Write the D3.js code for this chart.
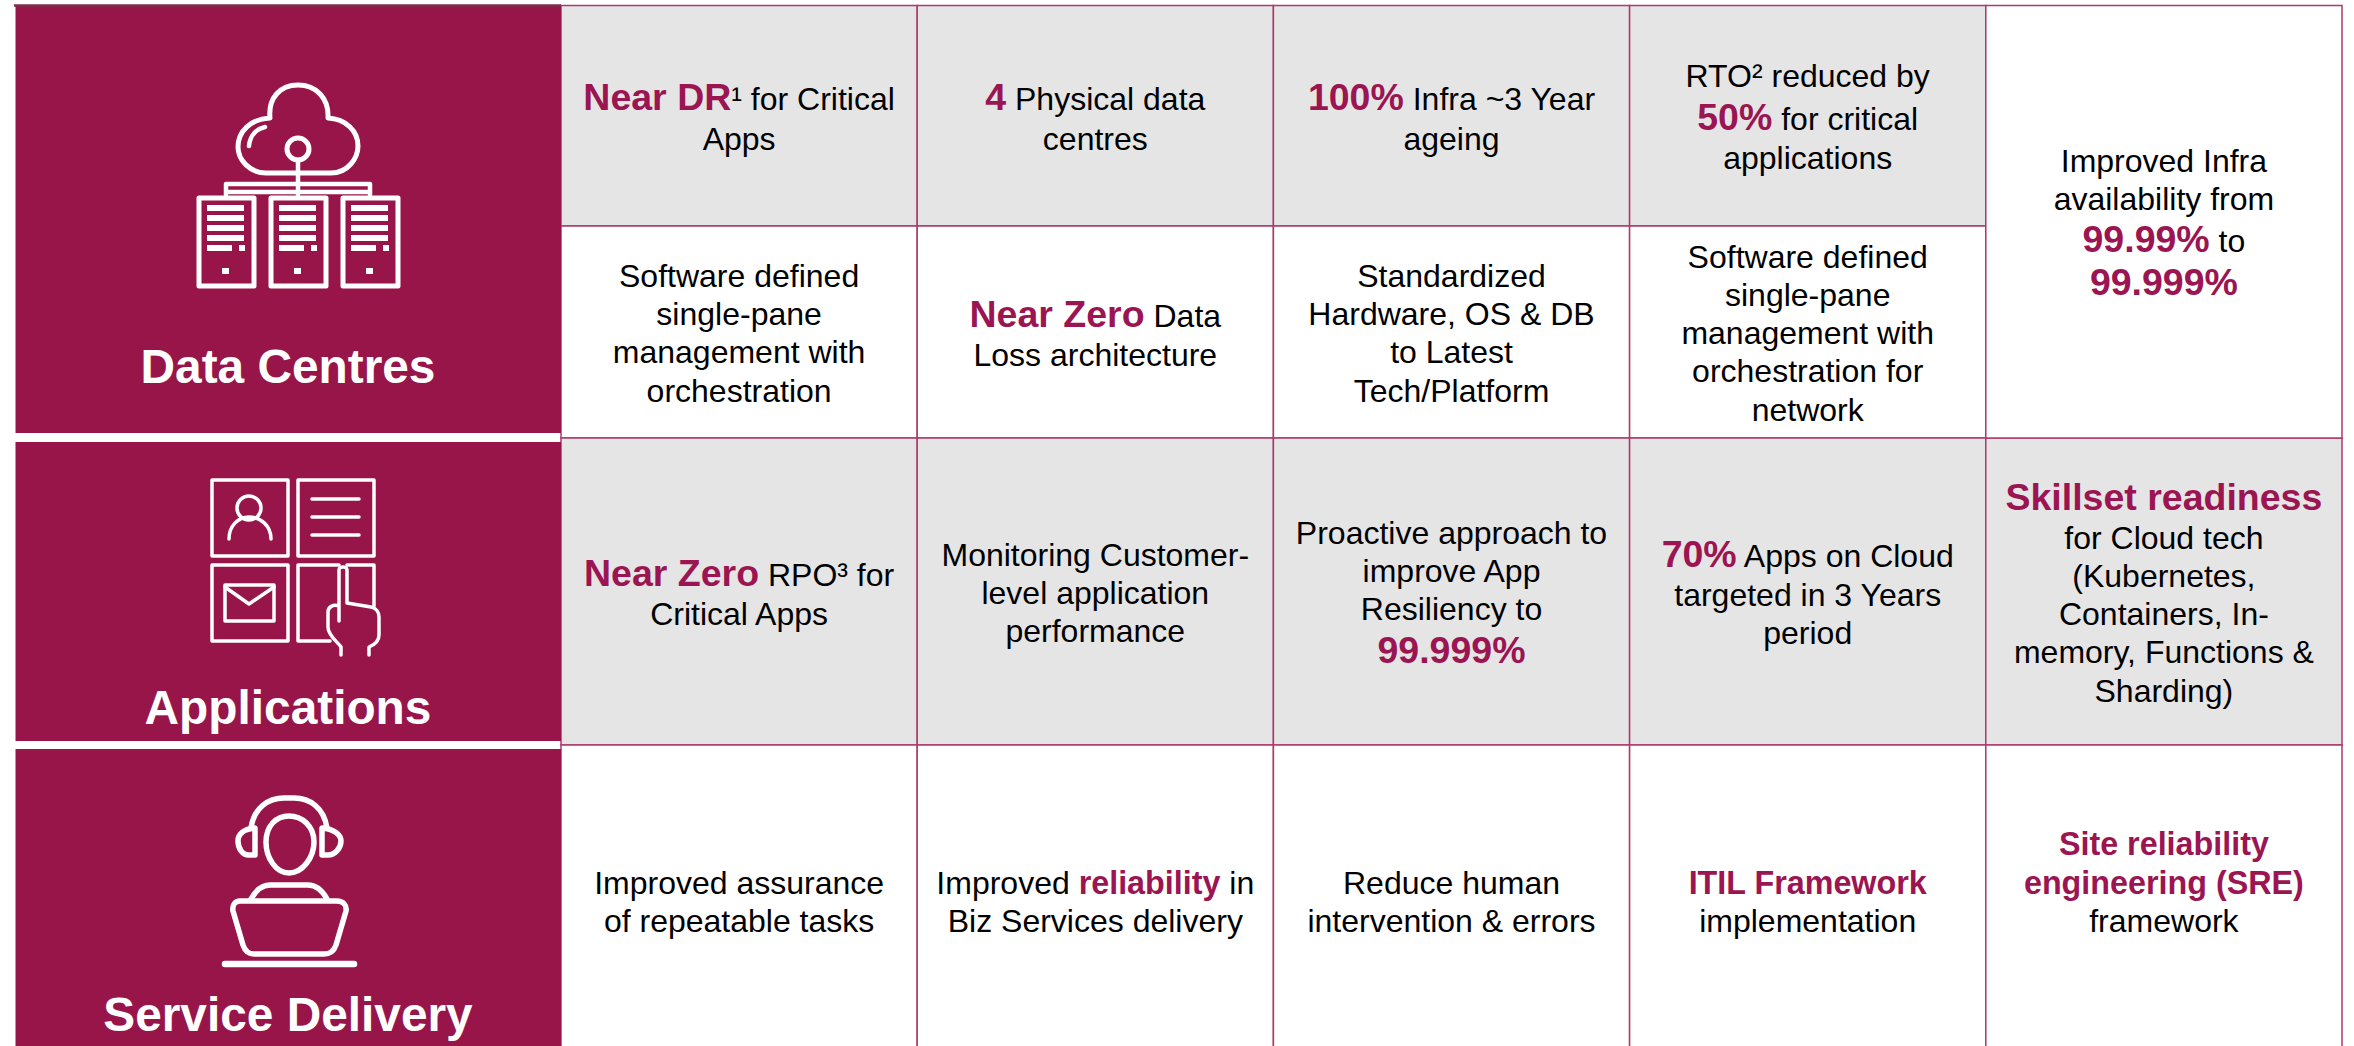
<!DOCTYPE html>
<html>
<head>
<meta charset="utf-8">
<script src="https://cdn.jsdelivr.net/npm/d3@7"></script>
<style>
body { margin: 0; background: #fff; }
svg { display: block; }
text { font-family: "Liberation Sans", Arial, sans-serif; }
</style>
</head>
<body>
<div id="chart"></div>
<script>
// text of the cells, one string per line, **x** is a highlighted run
var sectionNames = ["Data Centres", "Applications", "Service Delivery"]
var dataCentreTop = [
    ["**Near DR**¹ for Critical", "Apps"],
    ["**4** Physical data", "centres"],
    ["**100%** Infra ~3 Year", "ageing"],
    ["RTO² reduced by", "**50%** for critical", "applications"]
]
var dataCentreBottom = [
    ["Software defined", "single-pane", "management with", "orchestration"],
    ["**Near Zero** Data", "Loss architecture"],
    ["Standardized", "Hardware, OS & DB", "to Latest", "Tech/Platform"],
    ["Software defined", "single-pane", "management with", "orchestration for", "network"]
]
var infraCell = ["Improved Infra", "availability from", "**99.99%** to", "**99.999%**"]
var applications = [
    ["**Near Zero** RPO³ for", "Critical Apps"],
    ["Monitoring Customer-", "level application", "performance"],
    ["Proactive approach to", "improve App", "Resiliency to", "**99.999%**"],
    ["**70%** Apps on Cloud", "targeted in 3 Years", "period"],
    ["**Skillset readiness**", "for Cloud tech", "(Kubernetes,", "Containers, In-", "memory, Functions &", "Sharding)"]
]
var serviceDelivery = [
    ["Improved assurance", "of repeatable tasks"],
    ["Improved **reliability** in", "Biz Services delivery"],
    ["Reduce human", "intervention & errors"],
    ["**ITIL Framework**", "implementation"],
    ["**Site reliability**", "**engineering (SRE)**", "framework", ""]
]
var rowShaded = [true, false, true, false]

var width = 2354
var height = 1046
var plum = "#98154a"
var accent = "#9b1552"
var gridColor = "#ad3a6c"
var textSize = 32
var lineStep = 38.2
var boldSizes = [37.5, 37.5, 37.5, 32.3]

var x = d3.scaleLinear().domain([0, 5]).range([561, 2342])
var y = d3.scaleLinear().domain([0, 1, 2, 3, 4]).range([5.5, 226, 438, 745, 1056])

var svg = d3.select("#chart").append("svg")
    .attr("width", width)
    .attr("height", height)

// build the cell table from the rows
var cells = []
function addRow(list, row) {
    list.forEach(function (lines, col) {
        cells.push({row: row, col: col, span: 1, lines: lines})
    })
}
addRow(dataCentreTop, 0)
addRow(dataCentreBottom, 1)
addRow(applications, 2)
addRow(serviceDelivery, 3)
cells.push({row: 0, col: 4, span: 2, lines: infraCell})

function parseLine(line) {
    return line.split("**").map(function (t, i) {
        return {text: t, bold: i % 2 == 1}
    }).filter(function (r) { return r.text != "" })
}

var cell = svg.selectAll(".cell").data(cells).enter().append("g").attr("class", "cell")

cell.append("rect")
    .attr("x", function (d) { return x(d.col) })
    .attr("y", function (d) { return y(d.row) })
    .attr("width", function (d) { return x(d.col + 1) - x(d.col) })
    .attr("height", function (d) { return y(d.row + d.span) - y(d.row) })
    .attr("fill", function (d) { return d.span == 1 && rowShaded[d.row] ? "#e5e5e5" : "#fff" })
    .attr("stroke", gridColor)
    .attr("stroke-width", 1.5)

cell.each(function (d) {
    var boldSize = boldSizes[d.row]
    var rows = d.lines.map(function (l) {
        var runs = parseLine(l)
        var big = runs.some(function (r) { return r.bold }) ? boldSize : textSize
        return {runs: runs, h: Math.max(lineStep, big * 1.15)}
    })
    var total = d3.sum(rows, function (r) { return r.h })
    var top = (y(d.row) + y(d.row + d.span)) / 2 - total / 2
    var cx = (x(d.col) + x(d.col + 1)) / 2
    var g = d3.select(this)
    rows.forEach(function (r) {
        var t = g.append("text")
            .attr("x", cx)
            .attr("y", top + r.h * 0.82)
            .attr("text-anchor", "middle")
        t.selectAll("tspan").data(r.runs).enter().append("tspan")
            .attr("font-size", function (s) { return s.bold ? boldSize : textSize })
            .attr("font-weight", function (s) { return s.bold ? "bold" : "normal" })
            .attr("fill", function (s) { return s.bold ? accent : "#000" })
            .text(function (s) { return s.text })
        top += r.h
    })
})

// left hand panels
var panelTop = [6, 442, 749]
var panelBottom = [433, 741, 1046]
var panelLabelY = [383, 724, 1031]
svg.selectAll(".panel").data(sectionNames).enter().append("rect")
    .attr("class", "panel")
    .attr("x", 15.5)
    .attr("y", function (d, i) { return panelTop[i] })
    .attr("width", 545.5)
    .attr("height", function (d, i) { return panelBottom[i] - panelTop[i] })
    .attr("fill", plum)
svg.append("line")
    .attr("x1", 14).attr("x2", 561).attr("y1", 5.5).attr("y2", 5.5)
    .attr("stroke", "#7d2c4b").attr("stroke-width", 2.5)
svg.selectAll(".panelLabel").data(sectionNames).enter().append("text")
    .attr("class", "panelLabel")
    .attr("x", 288)
    .attr("y", function (d, i) { return panelLabelY[i] })
    .attr("text-anchor", "middle")
    .attr("font-size", 47.8)
    .attr("font-weight", "bold")
    .attr("fill", "#fff")
    .text(function (d) { return d })

// icons
function icon(sw) {
    return svg.append("g")
        .attr("fill", "none")
        .attr("stroke", "#fff")
        .attr("stroke-width", sw)
        .attr("stroke-linejoin", "round")
        .attr("stroke-linecap", "round")
}

var cloud = icon(5)
cloud.append("path").attr("d", "M266,173 H331 C348,173 358,158 358,146 C358,131 346,119 328,118 C329,98 316,85 298,85 C280,85 268,98 270,118 C251,119 238,131 238,147 C238,160 250,173 266,173 Z")
cloud.append("path").attr("d", "M265,127 C256,129 250,136 249,146").attr("stroke-width", 4.5)
cloud.append("circle").attr("cx", 298).attr("cy", 149).attr("r", 11)
cloud.append("path").attr("d", "M298,160 V195 M226,195 V184 H370 V195 M228,192 H368")
    .attr("stroke-width", 4.5)
var serverX = [197, 269, 341]
var stackY = [208, 218, 228, 238]
serverX.forEach(function (sx) {
    cloud.append("rect").attr("x", sx + 2).attr("y", 198).attr("width", 55).attr("height", 88)
    stackY.forEach(function (sy) {
        cloud.append("line").attr("x1", sx + 10).attr("x2", sx + 47).attr("y1", sy).attr("y2", sy)
            .attr("stroke-width", 6).attr("stroke-linecap", "butt")
    })
    cloud.append("line").attr("x1", sx + 10).attr("x2", sx + 35).attr("y1", 248).attr("y2", 248)
        .attr("stroke-width", 6).attr("stroke-linecap", "butt")
    cloud.append("rect").attr("x", sx + 42).attr("y", 245).attr("width", 6).attr("height", 6)
        .attr("fill", "#fff").attr("stroke", "none")
    cloud.append("rect").attr("x", sx + 25).attr("y", 268).attr("width", 7).attr("height", 6)
        .attr("fill", "#fff").attr("stroke", "none")
})

var apps = icon(3.5)
apps.append("rect").attr("x", 212).attr("y", 480).attr("width", 76).attr("height", 76)
apps.append("rect").attr("x", 298).attr("y", 480).attr("width", 76).attr("height", 76)
apps.append("rect").attr("x", 212).attr("y", 565).attr("width", 76).attr("height", 76)
apps.append("circle").attr("cx", 249).attr("cy", 508).attr("r", 12)
apps.append("path").attr("d", "M229,539 C229,526 238,517 249,517 C261,517 271,526 271,539")
apps.append("path").attr("d", "M312,499 H359 M312,517 H359 M312,535 H359")
apps.append("rect").attr("x", 225).attr("y", 585).attr("width", 49).attr("height", 36)
apps.append("path").attr("d", "M225,587 L249,604 L274,587")
apps.append("path").attr("d", "M339,565 H298 V641 H330 M347,565 H374 V606")
apps.append("path").attr("d", "M341,655 V647 C338,642 328,636 328,627 V612 C328,607 333,604 339,606 V621 M339,606 V570 C339,566 347,566 347,570 V603 L371,607 C376,608 379,612 379,617 V635 C379,642 374,645 369,647 V655")

var agent = icon(5.5)
agent.append("path").attr("d", "M289,816 C276,816 266,826 266,842 C266,858 276,873 289,873 C302,873 314,858 314,842 C314,826 302,816 289,816 Z")
agent.append("path").attr("d", "M251,828 C254,808 268,798 284,798 H294 C310,798 324,808 327,828")
agent.append("path").attr("d", "M255,828 V855 H249 C242,855 238,848 238,841 C238,834 244,829 255,828 Z")
agent.append("path").attr("d", "M322,828 V855 H328 C335,855 341,848 341,841 C341,834 333,829 322,828 Z")
agent.append("path").attr("d", "M240,901 H337 C343,901 347,905 346,911 L336,945 C334,951 330,954 324,954 H254 C248,954 245,951 243,945 L233,911 C232,905 235,901 240,901 Z")
agent.append("path").attr("d", "M251,899 C256,890 262,885 270,885 H308 C316,885 322,890 327,899")
agent.append("line").attr("x1", 225).attr("x2", 354).attr("y1", 964).attr("y2", 964).attr("stroke-width", 6.5)
</script>
</body>
</html>
